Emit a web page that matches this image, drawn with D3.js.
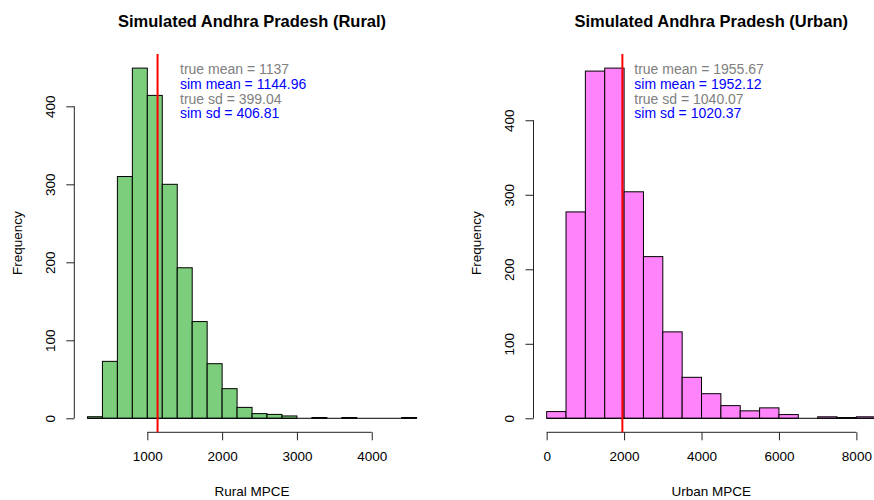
<!DOCTYPE html>
<html>
<head>
<meta charset="utf-8">
<script src="https://d3js.org/d3.v7.min.js"></script>
<style>
    body { margin: 0; background: #fff; }
    svg text { font-family: "Liberation Sans", Arial, Helvetica, sans-serif; }
</style>
</head>
<body>
<div id="chart"></div>
<script>
// histogram counts
const ruralStart = 200, ruralWidth = 200;
const ruralCounts = [2, 73, 310, 449, 414, 300, 193, 124, 70, 38, 14, 6, 5, 3, 0, 1, 0, 1, 0, 0, 0, 1];
const ruralTicksX = [1000, 2000, 3000, 4000];
const ruralTicksY = [0, 100, 200, 300, 400];
const ruralStats = ["true mean = 1137", "sim mean = 1144.96", "true sd = 399.04", "sim sd = 406.81"];
const ruralMean = 1137;

const urbanStart = 0, urbanWidth = 500;
const urbanCounts = [9, 277, 466, 470, 304, 217, 116, 55, 33, 17, 10, 14, 5, 0, 2, 1, 2];
const urbanTicksX = [0, 2000, 4000, 6000, 8000];
const urbanTicksY = [0, 100, 200, 300, 400];
const urbanStats = ["true mean = 1955.67", "sim mean = 1952.12", "true sd = 1040.07", "sim sd = 1020.37"];
const urbanMean = 1955.67;

const statColors = ["#808080", "#0000ff", "#808080", "#0000ff"];

const W = 874, H = 500;
const svg = d3.select("#chart").append("svg").attr("width", W).attr("height", H);

function panel(opt) {
    let bins = opt.counts.map((c, i) => ({x0: opt.start + i * opt.width, x1: opt.start + (i + 1) * opt.width, n: c}));
    let lo = bins[0].x0, hi = bins[bins.length - 1].x1;
    let padX = (hi - lo) * 0.04;
    let maxY = d3.max(opt.counts);
    let x = d3.scaleLinear().domain([lo - padX, hi + padX]).range([opt.left, opt.right]);
    let y = d3.scaleLinear().domain([-maxY * 0.04, maxY * 1.04]).range([432.3, 54.1]);

    let g = svg.append("g");

    // bars
    g.selectAll("rect.bar").data(bins).enter().append("rect")
        .attr("class", "bar")
        .attr("x", d => x(d.x0))
        .attr("y", d => y(d.n))
        .attr("width", d => x(d.x1) - x(d.x0))
        .attr("height", d => y(0) - y(d.n))
        .attr("fill", opt.fill)
        .attr("stroke", "#000")
        .attr("stroke-width", 1);
    // empty bins still leave an outline along zero
    g.append("line")
        .attr("x1", x(lo)).attr("x2", x(hi))
        .attr("y1", y(0)).attr("y2", y(0))
        .attr("stroke", "#000").attr("stroke-width", 1);

    // x axis, R style (line only between first and last tick)
    let xa = g.append("g").attr("transform", `translate(0,${y.range()[0]})`)
        .call(d3.axisBottom(x).tickValues(opt.ticksX).tickSize(8).tickPadding(11).tickFormat(d3.format("d")));
    xa.select(".domain").attr("d", `M${x(opt.ticksX[0])},0H${x(opt.ticksX[opt.ticksX.length - 1])}`);
    xa.selectAll("line, path").attr("stroke", "#222");
    xa.selectAll("text").attr("font-size", "13.5px").attr("fill", "#000");

    // y axis with rotated labels
    let ya = g.append("g").attr("transform", `translate(${opt.left},0)`)
        .call(d3.axisLeft(y).tickValues(opt.ticksY).tickSize(8).tickFormat(d3.format("d")));
    ya.select(".domain").attr("d", `M0,${y(opt.ticksY[0])}V${y(opt.ticksY[opt.ticksY.length - 1])}`);
    ya.selectAll("line, path").attr("stroke", "#222");
    ya.selectAll("text")
        .attr("font-size", "13.5px").attr("fill", "#000")
        .attr("x", 0).attr("dy", null)
        .attr("text-anchor", "middle")
        .attr("transform", `translate(-24,0) rotate(-90)`)
        .attr("dominant-baseline", "central");

    // mean line clipped to the plot region
    g.append("line")
        .attr("x1", x(opt.mean)).attr("x2", x(opt.mean))
        .attr("y1", y.range()[1]).attr("y2", y.range()[0])
        .attr("stroke", "#ff0000").attr("stroke-width", 2);

    // stats text
    g.selectAll("text.stat").data(opt.stats).enter().append("text")
        .attr("class", "stat")
        .attr("x", x(opt.textX))
        .attr("y", (d, i) => 69 + i * 14.8)
        .attr("dominant-baseline", "central")
        .attr("font-size", "14px")
        .attr("fill", (d, i) => statColors[i])
        .text(d => d);

    let cx = (opt.left + opt.right) / 2;
    g.append("text")
        .attr("x", cx).attr("y", 21)
        .attr("text-anchor", "middle").attr("dominant-baseline", "central")
        .attr("font-size", "16.5px").attr("font-weight", "bold")
        .text(opt.title);
    g.append("text")
        .attr("x", cx).attr("y", 491)
        .attr("text-anchor", "middle").attr("dominant-baseline", "central")
        .attr("font-size", "13.5px")
        .text(opt.xlab);
    g.append("text")
        .attr("transform", `translate(${opt.left - 57},${(y.range()[0] + y.range()[1]) / 2}) rotate(-90)`)
        .attr("text-anchor", "middle").attr("dominant-baseline", "central")
        .attr("font-size", "13.5px")
        .text("Frequency");
}

panel({
    start: ruralStart, width: ruralWidth, counts: ruralCounts,
    ticksX: ruralTicksX, ticksY: ruralTicksY, stats: ruralStats, mean: ruralMean,
    left: 74.3, right: 429.8, fill: "#7ccd7c", textX: 1437,
    title: "Simulated Andhra Pradesh (Rural)", xlab: "Rural MPCE"
});
panel({
    start: urbanStart, width: urbanWidth, counts: urbanCounts,
    ticksX: urbanTicksX, ticksY: urbanTicksY, stats: urbanStats, mean: urbanMean,
    left: 533.5, right: 888.9, fill: "#ff83fa", textX: 2263,
    title: "Simulated Andhra Pradesh (Urban)", xlab: "Urban MPCE"
});
</script>
</body>
</html>
